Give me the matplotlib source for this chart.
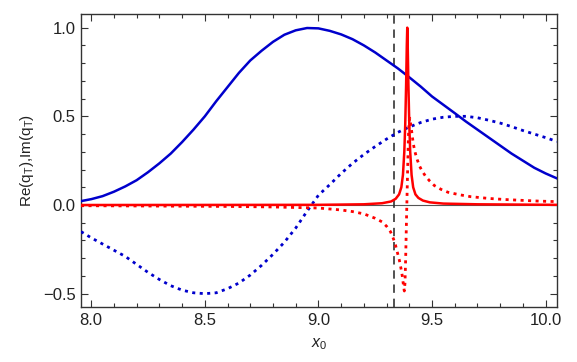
import numpy as np
import matplotlib
matplotlib.use("Agg")
import matplotlib.pyplot as plt
from matplotlib.ticker import MultipleLocator

# ==================== DATA ====================
# blue solid: Re part, broad resonance
blue_re_x = [7.955, 8.0, 8.05, 8.10, 8.15, 8.20, 8.25, 8.30, 8.35, 8.40, 8.45, 8.50,
             8.55, 8.60, 8.65, 8.70, 8.75, 8.80, 8.85, 8.90, 8.95, 9.00, 9.05, 9.10,
             9.15, 9.20, 9.25, 9.30, 9.35, 9.40, 9.45, 9.50, 9.55, 9.60, 9.65, 9.70,
             9.75, 9.80, 9.85, 9.90, 9.95, 10.0, 10.05]
blue_re_y = [0.022, 0.033, 0.05, 0.075, 0.105, 0.14, 0.185, 0.235, 0.29, 0.355, 0.425, 0.50,
             0.585, 0.665, 0.745, 0.815, 0.87, 0.92, 0.96, 0.985, 0.998, 0.996, 0.982, 0.962,
             0.935, 0.90, 0.86, 0.815, 0.77, 0.72, 0.668, 0.612, 0.565, 0.518, 0.47, 0.425,
             0.38, 0.335, 0.29, 0.25, 0.21, 0.178, 0.15]

# blue dotted: Im part, broad resonance
blue_im_x = [7.955, 8.0, 8.05, 8.10, 8.15, 8.20, 8.25, 8.30, 8.35, 8.40, 8.45, 8.50,
             8.55, 8.60, 8.65, 8.70, 8.75, 8.80, 8.85, 8.90, 8.95, 9.00, 9.05, 9.10,
             9.15, 9.20, 9.25, 9.30, 9.35, 9.40, 9.45, 9.50, 9.55, 9.60, 9.65, 9.70,
             9.75, 9.80, 9.85, 9.90, 9.95, 10.0, 10.05]
blue_im_y = [-0.15, -0.185, -0.22, -0.255, -0.29, -0.335, -0.38, -0.42, -0.455, -0.48, -0.495, -0.50,
             -0.495, -0.472, -0.44, -0.395, -0.34, -0.278, -0.21, -0.13, -0.035, 0.055, 0.115, 0.178,
             0.235, 0.285, 0.33, 0.372, 0.41, 0.44, 0.465, 0.484, 0.495, 0.50, 0.50, 0.492,
             0.478, 0.462, 0.442, 0.42, 0.40, 0.38, 0.358]

# red solid: Re part, narrow resonance
red_re_x = [7.955, 8.5, 9.0, 9.2, 9.28, 9.32, 9.34, 9.355, 9.365, 9.372, 9.378, 9.382,
            9.386, 9.389, 9.391, 9.393, 9.396, 9.400, 9.404, 9.41, 9.417, 9.427, 9.44,
            9.46, 9.49, 9.55, 9.7, 10.05]
red_re_y = [0.0, 0.0005, 0.001, 0.004, 0.01, 0.02, 0.035, 0.06, 0.10, 0.17, 0.30, 0.45,
            0.68, 0.90, 1.0, 0.90, 0.68, 0.45, 0.30, 0.17, 0.10, 0.06, 0.04,
            0.025, 0.015, 0.008, 0.004, 0.001]

# red dotted: Im part, narrow resonance
red_im_x = [7.955, 8.3, 8.6, 8.8, 9.0, 9.1, 9.15, 9.2, 9.25, 9.28, 9.30, 9.317, 9.33,
            9.339, 9.348, 9.356, 9.363, 9.369, 9.374, 9.378, 9.381, 9.384, 9.387, 9.39,
            9.393, 9.396, 9.399, 9.402, 9.406, 9.41, 9.415, 9.42, 9.427, 9.435, 9.445,
            9.455, 9.47, 9.49, 9.51, 9.54, 9.57, 9.62, 9.67, 9.75, 9.82, 9.9, 9.97, 10.05]
red_im_y = [-0.004, -0.006, -0.008, -0.011, -0.017, -0.028, -0.037, -0.05, -0.075, -0.095, -0.12, -0.15, -0.19,
            -0.225, -0.27, -0.31, -0.355, -0.40, -0.45, -0.485, -0.44, -0.30, -0.12, 0.05,
            0.22, 0.38, 0.47, 0.49, 0.46, 0.42, 0.37, 0.33, 0.29, 0.255, 0.22,
            0.195, 0.165, 0.135, 0.11, 0.088, 0.072, 0.058, 0.047, 0.037, 0.031, 0.026, 0.022, 0.019]

x_marker = 9.333
# =====================================================================

plt.rcParams["font.family"] = ["Liberation Sans", "DejaVu Sans"]
plt.rcParams["mathtext.fontset"] = "custom"
plt.rcParams["mathtext.rm"] = "Liberation Sans"
plt.rcParams["mathtext.it"] = "Liberation Sans:italic"

BLUE = "#0000cc"
RED = "#ff0000"
FRAME = "#333333"

fig = plt.figure(figsize=(5.77, 3.62), dpi=100)
ax = fig.add_axes([0.1404, 0.152, 0.8249, 0.8093])

ax.axhline(0, color="#555555", linewidth=0.8, zorder=1)
ax.axvline(x_marker, color="#333333", linewidth=1.2, linestyle=(0, (5, 3.5)), zorder=1)

ax.plot(blue_re_x, blue_re_y, color=BLUE, linewidth=1.8, zorder=3)
ax.plot(blue_im_x, blue_im_y, color=BLUE, linewidth=2.0,
        linestyle=(0, (1.1, 1.6)), dash_capstyle="butt", zorder=3)
ax.plot(red_im_x, red_im_y, color=RED, linewidth=2.0,
        linestyle=(0, (1.1, 1.6)), dash_capstyle="butt", zorder=4)
ax.plot(red_re_x, red_re_y, color=RED, linewidth=1.8, zorder=5)

ax.set_xlim(7.955, 10.05)
ax.set_ylim(-0.575, 1.077)

ax.xaxis.set_major_locator(MultipleLocator(0.5))
ax.xaxis.set_minor_locator(MultipleLocator(0.1))
ax.yaxis.set_major_locator(MultipleLocator(0.5))
ax.yaxis.set_minor_locator(MultipleLocator(0.1))
ax.xaxis.set_major_formatter(plt.FuncFormatter(lambda v, p: f"{v:.1f}"))
ax.yaxis.set_major_formatter(plt.FuncFormatter(lambda v, p: f"{v:.1f}".replace("-", "\u2212")))

ax.tick_params(which="both", direction="in", top=True, right=True,
               color=FRAME, width=0.8, labelsize=12, labelcolor="#222222", pad=4)
ax.tick_params(which="major", length=5)
ax.tick_params(which="minor", length=3)
for s in ax.spines.values():
    s.set_color(FRAME)
    s.set_linewidth(1.0)

ax.set_xlabel("$x_0$", fontsize=11.5, color="#222222", labelpad=6)
ax.set_ylabel("Re(q$_{\\mathrm{T}}$),Im(q$_{\\mathrm{T}}$)", fontsize=11,
              color="#222222", labelpad=5)

fig.savefig("out.png", dpi=100)
plt.close(fig)
